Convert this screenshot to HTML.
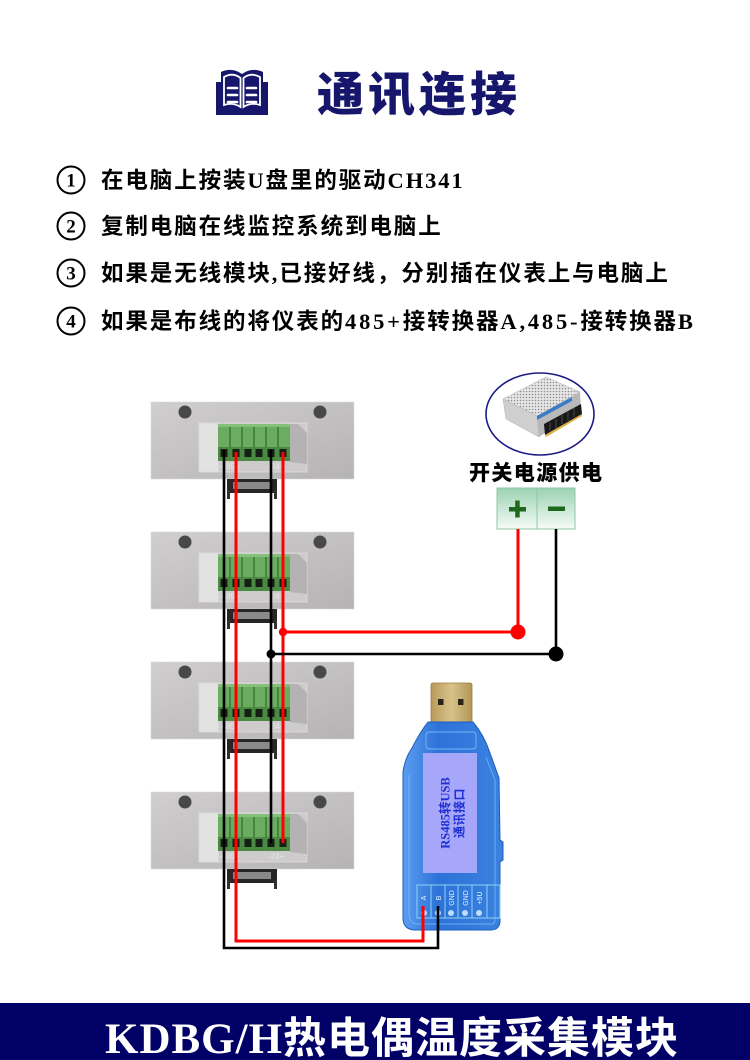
<!DOCTYPE html>
<html><head><meta charset="utf-8">
<style>
html,body{margin:0;padding:0;background:#fff;}
body{width:750px;height:1060px;overflow:hidden;position:relative;}
svg{position:absolute;left:0;top:0;}
.cj{font-family:"Liberation Serif","Noto Sans CJK SC",serif;font-weight:bold;}
.hs{font-family:"Noto Sans CJK SC","Liberation Sans",sans-serif;font-weight:900;}
</style></head><body>
<svg width="750" height="1060" viewBox="0 0 750 1060" xmlns="http://www.w3.org/2000/svg">
<defs>
 <linearGradient id="mg" x1="0" y1="0" x2="1" y2="1">
  <stop offset="0" stop-color="#d0cece"/><stop offset="1" stop-color="#b5b3b3"/>
 </linearGradient>
 <linearGradient id="pm" x1="0" y1="0" x2="0" y2="1">
  <stop offset="0" stop-color="#9bd2b2"/><stop offset="1" stop-color="#f6fcf8"/>
 </linearGradient>
 <linearGradient id="ub" x1="0" y1="0" x2="1" y2="0">
  <stop offset="0" stop-color="#5a9ef0"/><stop offset="0.35" stop-color="#2d72d8"/><stop offset="1" stop-color="#3b82e0"/>
 </linearGradient>
 <linearGradient id="plug" x1="0" y1="0" x2="1" y2="0">
  <stop offset="0" stop-color="#b89a5a"/><stop offset="0.5" stop-color="#d8c28a"/><stop offset="1" stop-color="#b49656"/>
 </linearGradient>
 <pattern id="perf" width="3" height="3" patternUnits="userSpaceOnUse">
  <rect width="3" height="3" fill="#e6e6e6"/><circle cx="1.5" cy="1.5" r="0.8" fill="#8e8e8e"/>
 </pattern>
 <g id="mod">
  <rect x="151" y="0" width="203" height="77" fill="url(#mg)" stroke="#dadada" stroke-width="0.6"/>
  <circle cx="185" cy="10" r="6.5" fill="#484848"/>
  <circle cx="320" cy="10" r="6.5" fill="#484848"/>
  <rect x="199" y="21" width="108" height="49" fill="#cdcbcb" stroke="#dedede" stroke-width="0.8"/>
  <rect x="199.5" y="21.5" width="19" height="48" fill="#e2e2e0"/>
  <polygon points="290,22 298,22 307,31 307,62 290,60" fill="#a9a7a7" opacity="0.7"/>
  <rect x="218" y="22" width="72" height="37" fill="#5a9a50"/>
  <rect x="218" y="22" width="72" height="23" fill="#6aac60"/>
  <rect x="218" y="22" width="72" height="3" fill="#84c07a"/>
  <g stroke="#3c7634" stroke-width="1.5">
   <line x1="230" y1="25" x2="230" y2="45"/><line x1="242" y1="25" x2="242" y2="45"/>
   <line x1="254" y1="25" x2="254" y2="45"/><line x1="266" y1="25" x2="266" y2="45"/>
   <line x1="278" y1="25" x2="278" y2="45"/>
  </g>
  <rect x="218" y="45" width="72" height="14" fill="#4b8a43"/>
  <g fill="#142014">
   <rect x="220.5" y="47" width="7" height="8"/><rect x="232.5" y="47" width="7" height="8"/>
   <rect x="244.5" y="47" width="7" height="8"/><rect x="255.5" y="47" width="7" height="8"/>
   <rect x="267.5" y="47" width="7" height="8"/><rect x="279.5" y="47" width="7" height="8"/>
  </g>
  <rect x="227" y="77" width="50" height="14" fill="#262626"/>
  <rect x="233" y="80" width="38" height="7" fill="#8a8a8a"/>
  <rect x="227" y="88" width="3" height="9" fill="#303030"/>
  <rect x="274" y="88" width="3" height="9" fill="#303030"/>
 </g>
</defs>

<!-- header icon -->
<path d="M216,82 L216,115 L268,115 L268,82 L263,82 L263,72 Q252,67 242,74 Q232,67 221,72 L221,82 Z" fill="#16166c"/>
<path d="M224,77 Q233,72 240.5,78 L240.5,107 Q233,102 224,105 Z" fill="none" stroke="#fff" stroke-width="1.8"/>
<path d="M260,77 Q251,72 243.5,78 L243.5,107 Q251,102 260,105 Z" fill="none" stroke="#fff" stroke-width="1.8"/>
<g stroke="#fff" stroke-width="2.6" stroke-linecap="round">
 <line x1="228" y1="88" x2="237" y2="88"/><line x1="228" y1="95" x2="237" y2="95"/><line x1="228" y1="102" x2="237" y2="102"/>
 <line x1="247" y1="88" x2="256" y2="88"/><line x1="247" y1="95" x2="256" y2="95"/><line x1="247" y1="102" x2="256" y2="102"/>
</g>
<text x="317" y="111" class="hs" font-size="47" letter-spacing="4" fill="#16166c">通讯连接</text>

<!-- list -->
<g fill="none" stroke="#000" stroke-width="2">
 <circle cx="71" cy="180" r="13.5"/><circle cx="71" cy="226" r="13.5"/>
 <circle cx="71" cy="273" r="13.5"/><circle cx="71" cy="321" r="13.5"/>
</g>
<g style="font-family:'Liberation Serif',serif;font-weight:bold" font-size="19" text-anchor="middle" fill="#000">
 <text x="71" y="186.5">1</text><text x="71" y="232.5">2</text>
 <text x="71" y="279.5">3</text><text x="71" y="327.5">4</text>
</g>
<g class="cj" font-size="22.5" letter-spacing="1.9" fill="#000">
 <text x="101" y="188">在电脑上按装U盘里的驱动CH341</text>
 <text x="101" y="234">复制电脑在线监控系统到电脑上</text>
 <text x="101" y="281">如果是无线模块,已接好线，分别插在仪表上与电脑上</text>
 <text x="101" y="329">如果是布线的将仪表的<tspan letter-spacing="2.8">485+</tspan>接转换器<tspan letter-spacing="2.8">A,485-</tspan>接转换器B</text>
</g>

<!-- modules -->
<use href="#mod" transform="translate(0,402)"/>
<use href="#mod" transform="translate(0,532)"/>
<use href="#mod" transform="translate(0,662)"/>
<use href="#mod" transform="translate(0,792)"/>
<g style="font-family:'Liberation Sans',sans-serif" font-size="8" fill="#e8e8e8">
 <text x="219" y="469">-485+</text><text x="268" y="469">-24+</text>
 <text x="219" y="599">-485+</text><text x="268" y="599">-24+</text>
 <text x="219" y="729">-485+</text><text x="268" y="729">-24+</text>
 <text x="219" y="859">-485+</text><text x="268" y="859">-24+</text>
</g>

<!-- power supply -->
<ellipse cx="540" cy="414" rx="54" ry="41" fill="#fff" stroke="#1c1c84" stroke-width="1.6"/>
<polygon points="503,399 546,377 580,392 537,416" fill="url(#perf)" stroke="#bdbdbd" stroke-width="0.6"/>
<polygon points="503,399 537,416 539,437 506,419" fill="#cfcfcf" stroke="#b0b0b0" stroke-width="0.5"/>
<polygon points="537,416 580,392 581,410 539,437" fill="#b9b9b9"/>
<polygon points="537,416 572,397 572,401 537,420" fill="#3a7cc8"/>
<polygon points="544,424 581,404 582,414 545,435" fill="#181818"/>
<g stroke="#555" stroke-width="0.8">
 <line x1="550" y1="422" x2="550" y2="431"/><line x1="556" y1="419" x2="556" y2="428"/>
 <line x1="562" y1="415" x2="562" y2="424"/><line x1="568" y1="412" x2="568" y2="421"/>
 <line x1="574" y1="408" x2="574" y2="417"/>
</g>
<polygon points="545,435 582,414 582,416 546,437" fill="#e0b040"/>
<text x="469" y="480" class="hs" font-size="21" letter-spacing="1.4" fill="#000">开关电源供电</text>
<rect x="497" y="488" width="78" height="41" fill="url(#pm)" stroke="#8fc7a3" stroke-width="1"/>
<line x1="537" y1="488" x2="537" y2="529" stroke="#8fc7a3" stroke-width="1"/>
<rect x="509" y="507" width="17" height="4.5" fill="#1d6a1d"/>
<rect x="515.2" y="500.5" width="4.5" height="17" fill="#1d6a1d"/>
<rect x="548" y="506.5" width="17" height="4.5" fill="#1d6a1d"/>

<!-- USB converter -->
<rect x="431" y="683" width="41" height="41" rx="2" fill="url(#plug)" stroke="#9c7e44" stroke-width="0.8"/>
<rect x="438" y="699" width="5.5" height="6" fill="#2a2418"/>
<rect x="458" y="699" width="5.5" height="6" fill="#2a2418"/>
<path d="M428,722 L473,722 Q484,735 490,753 L499,778 L500,840 L503,842 L503,860 L500,862 L500,922 Q499,930 491,930 L414,930 Q403,929 403,918 L403,772 Q405,758 412,748 Q420,732 428,722 Z" fill="url(#ub)" stroke="#1e5cb8" stroke-width="1"/>
<path d="M409,775 L409,915 Q410,924 418,924 L492,924 Q495,924 495,918 L495,780 L486,757" fill="none" stroke="#86c4ff" stroke-width="0.9" opacity="0.7"/>
<rect x="426" y="732" width="50" height="17" rx="3" fill="none" stroke="#86c4ff" stroke-width="0.9" opacity="0.8"/>
<rect x="423" y="753" width="54" height="120" fill="#a6a6fa"/>
<g transform="rotate(-90 450 813)" class="cj" fill="#1e2ed0" text-anchor="middle">
 <text x="450" y="812.5" font-size="12.5">RS485转USB</text>
 <text x="450" y="826.5" font-size="12" letter-spacing="0.5">通讯接口</text>
</g>
<rect x="417" y="885" width="83" height="33" fill="none" stroke="#8fd2f2" stroke-width="1"/>
<g stroke="#8fd2f2" stroke-width="1">
 <line x1="431" y1="885" x2="431" y2="918"/><line x1="445" y1="885" x2="445" y2="918"/>
 <line x1="458" y1="885" x2="458" y2="918"/><line x1="472" y1="885" x2="472" y2="918"/>
 <line x1="487" y1="885" x2="487" y2="918"/>
</g>
<g fill="#d6eeff" opacity="0.85">
 <circle cx="424" cy="913" r="3"/><circle cx="438" cy="913" r="3"/>
 <circle cx="451" cy="913" r="3"/><circle cx="465" cy="913" r="3"/><circle cx="479" cy="913" r="3"/>
</g>
<g style="font-family:'Liberation Sans',sans-serif" font-size="7" fill="#e8f4ff" text-anchor="middle">
 <text transform="rotate(-90 426 898)" x="426" y="898">A</text>
 <text transform="rotate(-90 441 898)" x="441" y="898">B</text>
 <text transform="rotate(-90 454 898)" x="454" y="898">GND</text>
 <text transform="rotate(-90 468 898)" x="468" y="898">GND</text>
 <text transform="rotate(-90 482 898)" x="482" y="898">+5U</text>
</g>

<!-- wires -->
<g fill="none" stroke-linejoin="miter">
 <polyline points="224,450 224,948 438,948 438,906" stroke="#000" stroke-width="2.6"/>
 <polyline points="236,452 236,941 423,941 423,906" stroke="#ff0000" stroke-width="3"/>
 <line x1="271" y1="450" x2="271" y2="843" stroke="#000" stroke-width="2.6"/>
 <line x1="283" y1="452" x2="283" y2="843" stroke="#ff0000" stroke-width="3"/>
 <polyline points="283,632 518,632 518,529" stroke="#ff0000" stroke-width="3"/>
 <polyline points="271,654 556,654 556,529" stroke="#000" stroke-width="2.6"/>
</g>
<circle cx="283" cy="632" r="4.2" fill="#ff0000"/>
<circle cx="518" cy="632" r="7.5" fill="#ff0000"/>
<circle cx="271" cy="654" r="4.5" fill="#000"/>
<circle cx="556" cy="654" r="7.5" fill="#000"/>

<!-- banner -->
<rect x="0" y="1003" width="750" height="57" fill="#000066"/>
<text x="105" y="1053" class="cj" font-size="43" letter-spacing="1" fill="#fff">KDBG/H热电偶温度采集模块</text>
</svg>
</body></html>
